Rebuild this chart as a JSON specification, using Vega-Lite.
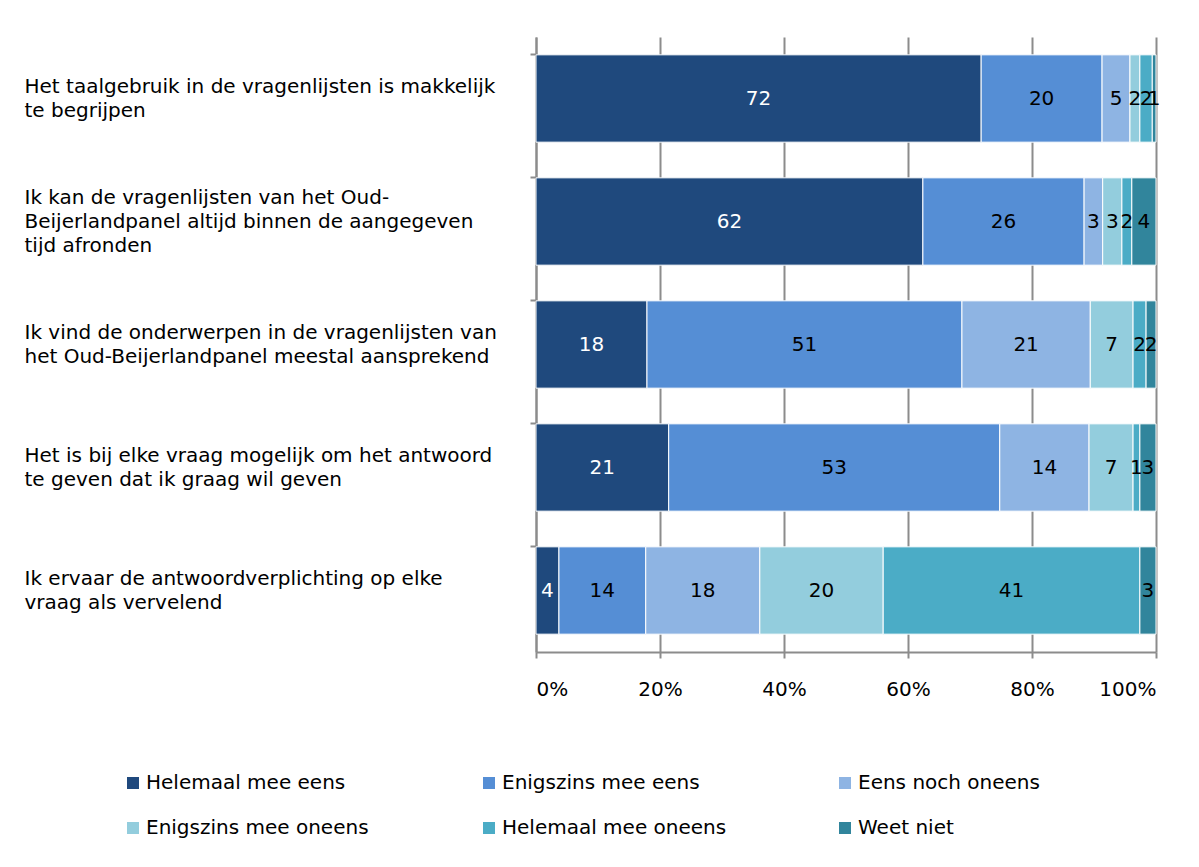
{
  "$schema": "https://vega.github.io/schema/vega-lite/v6.json",
  "autosize": {"type": "none"},
  "width": 620,
  "height": 615,
  "padding": {"left": 536, "top": 37, "right": 43, "bottom": 215},
  "background": "white",
  "config": {
    "font": "DejaVu Sans",
    "view": {"stroke": null}
  },
  "data": {
    "values": [
      {"q": "Het taalgebruik in de vragenlijsten is makkelijk|te begrijpen", "cat": "Helemaal mee eens", "o": 1, "value": 71.8},
      {"q": "Het taalgebruik in de vragenlijsten is makkelijk|te begrijpen", "cat": "Enigszins mee eens", "o": 2, "value": 19.5},
      {"q": "Het taalgebruik in de vragenlijsten is makkelijk|te begrijpen", "cat": "Eens noch oneens", "o": 3, "value": 4.5},
      {"q": "Het taalgebruik in de vragenlijsten is makkelijk|te begrijpen", "cat": "Enigszins mee oneens", "o": 4, "value": 1.6},
      {"q": "Het taalgebruik in de vragenlijsten is makkelijk|te begrijpen", "cat": "Helemaal mee oneens", "o": 5, "value": 2.0},
      {"q": "Het taalgebruik in de vragenlijsten is makkelijk|te begrijpen", "cat": "Weet niet", "o": 6, "value": 0.6},
      {"q": "Ik kan de vragenlijsten van het Oud-|Beijerlandpanel altijd binnen de aangegeven|tijd afronden", "cat": "Helemaal mee eens", "o": 1, "value": 62.4},
      {"q": "Ik kan de vragenlijsten van het Oud-|Beijerlandpanel altijd binnen de aangegeven|tijd afronden", "cat": "Enigszins mee eens", "o": 2, "value": 26.0},
      {"q": "Ik kan de vragenlijsten van het Oud-|Beijerlandpanel altijd binnen de aangegeven|tijd afronden", "cat": "Eens noch oneens", "o": 3, "value": 3.0},
      {"q": "Ik kan de vragenlijsten van het Oud-|Beijerlandpanel altijd binnen de aangegeven|tijd afronden", "cat": "Enigszins mee oneens", "o": 4, "value": 3.1},
      {"q": "Ik kan de vragenlijsten van het Oud-|Beijerlandpanel altijd binnen de aangegeven|tijd afronden", "cat": "Helemaal mee oneens", "o": 5, "value": 1.6},
      {"q": "Ik kan de vragenlijsten van het Oud-|Beijerlandpanel altijd binnen de aangegeven|tijd afronden", "cat": "Weet niet", "o": 6, "value": 3.9},
      {"q": "Ik vind de onderwerpen in de vragenlijsten van|het Oud-Beijerlandpanel meestal aansprekend", "cat": "Helemaal mee eens", "o": 1, "value": 17.9},
      {"q": "Ik vind de onderwerpen in de vragenlijsten van|het Oud-Beijerlandpanel meestal aansprekend", "cat": "Enigszins mee eens", "o": 2, "value": 50.8},
      {"q": "Ik vind de onderwerpen in de vragenlijsten van|het Oud-Beijerlandpanel meestal aansprekend", "cat": "Eens noch oneens", "o": 3, "value": 20.7},
      {"q": "Ik vind de onderwerpen in de vragenlijsten van|het Oud-Beijerlandpanel meestal aansprekend", "cat": "Enigszins mee oneens", "o": 4, "value": 6.9},
      {"q": "Ik vind de onderwerpen in de vragenlijsten van|het Oud-Beijerlandpanel meestal aansprekend", "cat": "Helemaal mee oneens", "o": 5, "value": 2.1},
      {"q": "Ik vind de onderwerpen in de vragenlijsten van|het Oud-Beijerlandpanel meestal aansprekend", "cat": "Weet niet", "o": 6, "value": 1.6},
      {"q": "Het is bij elke vraag mogelijk om het antwoord|te geven dat ik graag wil geven", "cat": "Helemaal mee eens", "o": 1, "value": 21.4},
      {"q": "Het is bij elke vraag mogelijk om het antwoord|te geven dat ik graag wil geven", "cat": "Enigszins mee eens", "o": 2, "value": 53.4},
      {"q": "Het is bij elke vraag mogelijk om het antwoord|te geven dat ik graag wil geven", "cat": "Eens noch oneens", "o": 3, "value": 14.4},
      {"q": "Het is bij elke vraag mogelijk om het antwoord|te geven dat ik graag wil geven", "cat": "Enigszins mee oneens", "o": 4, "value": 7.1},
      {"q": "Het is bij elke vraag mogelijk om het antwoord|te geven dat ik graag wil geven", "cat": "Helemaal mee oneens", "o": 5, "value": 1.1},
      {"q": "Het is bij elke vraag mogelijk om het antwoord|te geven dat ik graag wil geven", "cat": "Weet niet", "o": 6, "value": 2.6},
      {"q": "Ik ervaar de antwoordverplichting op elke|vraag als vervelend", "cat": "Helemaal mee eens", "o": 1, "value": 3.7},
      {"q": "Ik ervaar de antwoordverplichting op elke|vraag als vervelend", "cat": "Enigszins mee eens", "o": 2, "value": 14.0},
      {"q": "Ik ervaar de antwoordverplichting op elke|vraag als vervelend", "cat": "Eens noch oneens", "o": 3, "value": 18.4},
      {"q": "Ik ervaar de antwoordverplichting op elke|vraag als vervelend", "cat": "Enigszins mee oneens", "o": 4, "value": 19.9},
      {"q": "Ik ervaar de antwoordverplichting op elke|vraag als vervelend", "cat": "Helemaal mee oneens", "o": 5, "value": 41.4},
      {"q": "Ik ervaar de antwoordverplichting op elke|vraag als vervelend", "cat": "Weet niet", "o": 6, "value": 2.6}
    ]
  },
  "encoding": {
    "y": {
      "field": "q",
      "type": "nominal",
      "sort": null,
      "title": null,
      "scale": {"paddingInner": 0.29, "paddingOuter": 0.145},
      "axis": {
        "labelExpr": "split(datum.label, '|')",
        "labelAlign": "left",
        "labelBaseline": "middle",
        "labelPadding": 506,
        "labelLimit": 0,
        "labelFontSize": 20,
        "labelLineHeight": 24,
        "labelColor": "#000000",
        "labelFont": "DejaVu Sans",
        "labelOffset": {"condition": {"test": "indexof(datum.value, 'Ik kan') == 0", "value": -24}, "value": -12},
        "bandPosition": 0,
        "tickSize": 6,
        "tickColor": "#8c8c8c",
        "tickWidth": 2,
        "domainColor": "#8c8c8c",
        "domainWidth": 2,
        "grid": false
      }
    },
    "x": {
      "field": "value",
      "type": "quantitative",
      "stack": "zero",
      "title": null,
      "scale": {"domain": [0, 100], "nice": false},
      "axis": {
        "values": [0, 20, 40, 60, 80, 100],
        "labelExpr": "datum.value + '%'",
        "labelFontSize": 20,
        "labelColor": "#000000",
        "labelPadding": 21,
        "labelFont": "DejaVu Sans",
        "tickSize": 6,
        "tickColor": "#8c8c8c",
        "tickWidth": 2,
        "domainColor": "#8c8c8c",
        "domainWidth": 2,
        "grid": true,
        "gridColor": "#8c8c8c",
        "gridWidth": 2
      }
    },
    "order": {"field": "o", "type": "quantitative"}
  },
  "layer": [
    {
      "mark": {"type": "bar", "stroke": "white", "strokeWidth": 1},
      "encoding": {
        "color": {
          "field": "cat",
          "type": "nominal",
          "scale": {
            "domain": ["Helemaal mee eens", "Enigszins mee eens", "Eens noch oneens", "Enigszins mee oneens", "Helemaal mee oneens", "Weet niet"],
            "range": ["#1f497d", "#558ed5", "#8eb4e3", "#93cddd", "#4bacc6", "#31859c"]
          },
          "legend": {
            "title": null,
            "orient": "none",
            "legendX": -413,
            "legendY": 736,
            "direction": "horizontal",
            "columns": 3,
            "gridAlign": "all",
            "columnPadding": 108,
            "rowPadding": 25,
            "symbolType": "square",
            "symbolSize": 144,
            "symbolStrokeWidth": 0,
            "labelFontSize": 20,
            "labelFont": "DejaVu Sans",
            "labelColor": "#000000",
            "labelOffset": 3,
            "labelLimit": 0,
            "padding": 0
          }
        }
      }
    },
    {
      "mark": {"type": "text", "fontSize": 20, "font": "DejaVu Sans", "baseline": "middle", "align": "center"},
      "encoding": {
        "x": {"field": "value", "type": "quantitative", "stack": "zero", "bandPosition": 0.5},
        "text": {"field": "value", "type": "quantitative", "format": ".0f"},
        "color": {
          "condition": {"test": "datum.cat === 'Helemaal mee eens'", "value": "#ffffff"},
          "value": "#000000"
        }
      }
    }
  ]
}
